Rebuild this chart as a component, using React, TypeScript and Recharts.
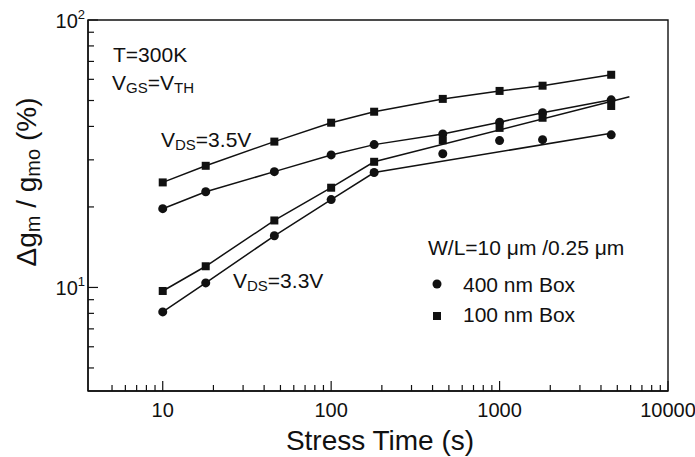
import { ComposedChart, XAxis, YAxis, Line, Scatter, ReferenceArea } from 'recharts';

const FONT = '"Liberation Sans", Arial, Helvetica, sans-serif';
const INK = '#111';

// stress times (s) shared by all four measured series
const stressTimes = [10, 18, 46, 100, 180, 460, 1000, 1800, 4600];

// delta gm / gm0 (%)
const box100Vds35 = [24.7, 28.5, 35.1, 41.3, 45.4, 50.7, 54.3, 56.8, 62.4];
const box400Vds35 = [19.7, 22.8, 27.1, 31.3, 34.2, 37.5, 41.5, 45.0, 50.3];
const box100Vds33 = [9.7, 12.0, 17.8, 23.6, 29.5, 35.5, 39.5, 43.1, 47.7];
const box400Vds33 = [8.1, 10.4, 15.6, 21.3, 26.9, 31.6, 35.4, 35.7, 37.2];

// fitted lines for the 3.3V curves (knots)
const fit100Vds33Times = [10, 18, 46, 100, 180, 5900];
const fit100Vds33Values = [9.7, 12.0, 17.8, 23.6, 29.5, 51.6];
const fit400Vds33Times = [10, 18, 46, 100, 180, 4600];
const fit400Vds33Values = [8.1, 10.4, 15.6, 21.3, 26.9, 37.7];

const xMajorTicks = [10, 100, 1000, 10000];
const xMinorTicks = [5, 6, 7, 8, 9, 20, 30, 40, 50, 60, 70, 80, 90, 200, 300, 400, 500, 600, 700, 800, 900, 2000, 3000, 4000, 5000, 6000, 7000, 8000, 9000];
const yMajorTicks = [10, 100];
const yMinorTicks = [5, 6, 7, 8, 9, 20, 30, 40, 50, 60, 70, 80, 90];

const X_DOMAIN: [number, number] = [3.6, 10000];
const Y_DOMAIN: [number, number] = [4.1, 100];

const toRows = (ts: number[], vs: number[]) => ts.map((t, i) => ({ t, v: vs[i] }));

const pts100Vds35 = toRows(stressTimes, box100Vds35);
const pts400Vds35 = toRows(stressTimes, box400Vds35);
const pts100Vds33 = toRows(stressTimes, box100Vds33);
const pts400Vds33 = toRows(stressTimes, box400Vds33);
const fit100Vds33 = toRows(fit100Vds33Times, fit100Vds33Values);
const fit400Vds33 = toRows(fit400Vds33Times, fit400Vds33Values);

const xTicks = [...xMinorTicks, ...xMajorTicks].sort((a, b) => a - b);
const yTicks = [...yMinorTicks, ...yMajorTicks].sort((a, b) => a - b);

function XTick(props: any) {
  const { x, y, payload } = props;
  const major = xMajorTicks.includes(payload.value);
  return (
    <g>
      <line x1={x} y1={y} x2={x} y2={y - (major ? 10 : 6)} stroke={INK} strokeWidth={1.2} />
      {major && (
        <text x={x} y={y + 26} textAnchor="middle" fontSize={20} fontFamily={FONT} fill={INK}>
          {payload.value}
        </text>
      )}
    </g>
  );
}

function YTick(props: any) {
  const { x, y, payload } = props;
  const major = yMajorTicks.includes(payload.value);
  const exp = Math.round(Math.log10(payload.value));
  return (
    <g>
      <line x1={x} y1={y} x2={x + (major ? 10 : 6)} y2={y} stroke={INK} strokeWidth={1.2} />
      {major && (
        <text x={x - 3} y={y + 8} textAnchor="end" fontSize={20} fontFamily={FONT} fill={INK}>
          <tspan>10</tspan>
          <tspan dy={-9} fontSize={13}>{exp}</tspan>
        </text>
      )}
    </g>
  );
}

const circleShape = (p: any) => <circle cx={p.cx} cy={p.cy} r={4.5} fill={INK} />;
const squareShape = (p: any) => <rect x={p.cx - 4} y={p.cy - 4} width={8} height={8} fill={INK} />;

export default function App() {
  return (
    <div style={{ position: 'absolute', left: 0, top: 0, width: 695, height: 457, background: '#fff' }}>
      <ComposedChart width={695} height={457} margin={{ top: 20, right: 27, left: 0, bottom: 0 }}>
        <XAxis
          dataKey="t"
          type="number"
          scale="log"
          domain={X_DOMAIN}
          allowDataOverflow
          ticks={xTicks}
          interval={0}
          tickSize={0}
          tickMargin={0}
          tickLine={false}
          tick={<XTick />}
          height={66}
          axisLine={{ stroke: INK, strokeWidth: 1.4 }}
        />
        <YAxis
          type="number"
          scale="log"
          domain={Y_DOMAIN}
          allowDataOverflow
          ticks={yTicks}
          interval={0}
          tickSize={0}
          tickMargin={0}
          tickLine={false}
          tick={<YTick />}
          width={88}
          axisLine={{ stroke: INK, strokeWidth: 1.4 }}
        />

        {/* plot frame */}
        <ReferenceArea
          x1={X_DOMAIN[0]}
          x2={X_DOMAIN[1]}
          y1={Y_DOMAIN[0]}
          y2={Y_DOMAIN[1]}
          fill="none"
          fillOpacity={0}
          stroke={INK}
          strokeWidth={1.4}
          ifOverflow="visible"
        />

        <Line data={pts100Vds35} dataKey="v" type="linear" stroke={INK} strokeWidth={1.5} dot={false} isAnimationActive={false} />
        <Line data={pts400Vds35} dataKey="v" type="linear" stroke={INK} strokeWidth={1.5} dot={false} isAnimationActive={false} />
        <Line data={fit100Vds33} dataKey="v" type="linear" stroke={INK} strokeWidth={1.5} dot={false} isAnimationActive={false} />
        <Line data={fit400Vds33} dataKey="v" type="linear" stroke={INK} strokeWidth={1.5} dot={false} isAnimationActive={false} />

        <Scatter data={pts100Vds35} dataKey="v" shape={squareShape} isAnimationActive={false} />
        <Scatter data={pts400Vds35} dataKey="v" shape={circleShape} isAnimationActive={false} />
        <Scatter data={pts100Vds33} dataKey="v" shape={squareShape} isAnimationActive={false} />
        <Scatter data={pts400Vds33} dataKey="v" shape={circleShape} isAnimationActive={false} />
      </ComposedChart>

      {/* annotations, legend and axis titles */}
      <svg
        width={695}
        height={457}
        style={{ position: 'absolute', left: 0, top: 0, pointerEvents: 'none' }}
        fontFamily={FONT}
        fill={INK}
      >
        <text x={113} y={62} fontSize={21}>T=300K</text>
        <text x={112} y={90} fontSize={21}>
          <tspan>V</tspan>
          <tspan fontSize={15} dy={3}>GS</tspan>
          <tspan dy={-3}>=V</tspan>
          <tspan fontSize={15} dy={3}>TH</tspan>
        </text>
        <text x={161} y={147} fontSize={21}>
          <tspan>V</tspan>
          <tspan fontSize={15} dy={3}>DS</tspan>
          <tspan dy={-3}>=3.5V</tspan>
        </text>
        <text x={233} y={288} fontSize={21}>
          <tspan>V</tspan>
          <tspan fontSize={15} dy={3}>DS</tspan>
          <tspan dy={-3}>=3.3V</tspan>
        </text>

        <text x={428} y={255} fontSize={21}>W/L=10 μm /0.25 μm</text>
        <circle cx={437} cy={284} r={4.5} />
        <text x={463} y={292} fontSize={21}>400 nm Box</text>
        <rect x={433} y={312} width={8} height={8} />
        <text x={463} y={322} fontSize={21}>100 nm Box</text>

        <text x={380} y={450} fontSize={28} textAnchor="middle">Stress Time (s)</text>
        <text x={36} y={182} fontSize={28} textAnchor="middle" transform="rotate(-90, 36, 182)">
          <tspan>Δg</tspan>
          <tspan fontSize={20} dy={4}>m</tspan>
          <tspan dy={-4}> / g</tspan>
          <tspan fontSize={20} dy={4}>mo</tspan>
          <tspan dy={-4}> (%)</tspan>
        </text>
      </svg>
    </div>
  );
}
